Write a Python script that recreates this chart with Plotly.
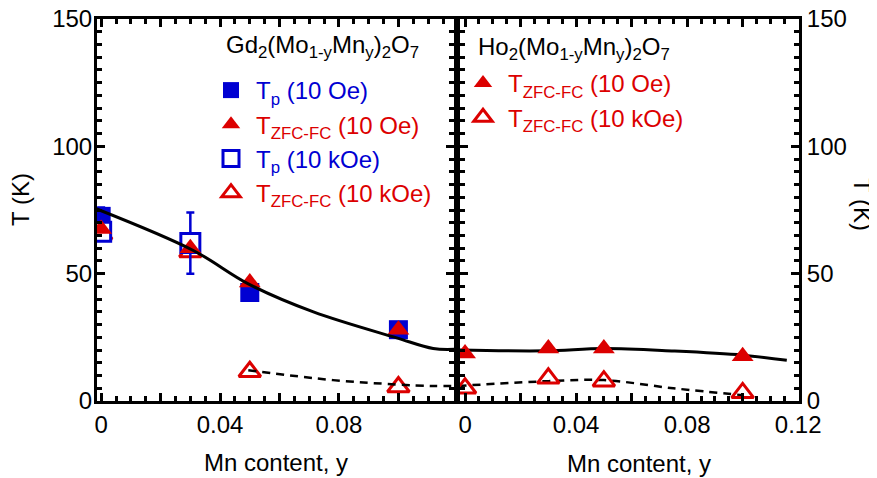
import plotly.graph_objects as go

# ---------------- data ----------------
# Left panel: Gd2(Mo1-yMny)2O7
gd_tp_lo_x = [0.0, 0.05, 0.10]
gd_tp_lo_y = [72.5, 42.6, 28.0]

gd_zfc_lo_x = [0.0, 0.03, 0.05, 0.10]
gd_zfc_lo_y = [67.5, 60.0, 46.5, 28.0]

gd_tp_hi_x = [0.0, 0.03]
gd_tp_hi_y = [66.5, 62.0]
gd_tp_hi_err_plus = [9.5, 12.0]
gd_tp_hi_err_minus = [0.0, 12.0]

gd_zfc_hi_x = [0.0, 0.03, 0.05, 0.10]
gd_zfc_hi_y = [65.5, 58.5, 11.5, 5.5]

gd_line_x = [-0.0015, 0.031, 0.0495, 0.0714, 0.0994, 0.1117, 0.119]
gd_line_y = [75.4, 59.1, 46.0, 35.0, 24.8, 20.6, 20.3]

gd_dash_x = [0.0495, 0.078, 0.0994, 0.1117, 0.119]
gd_dash_y = [12.1, 8.2, 6.5, 5.9, 5.9]

# Right panel: Ho2(Mo1-yMny)2O7
ho_zfc_lo_x = [0.0, 0.03, 0.05, 0.10]
ho_zfc_lo_y = [18.7, 20.6, 20.6, 17.6]

ho_zfc_hi_x = [0.0, 0.03, 0.05, 0.10]
ho_zfc_hi_y = [5.0, 8.9, 7.8, 3.2]

ho_line_x = [-0.0024, 0.029, 0.05, 0.0753, 0.10, 0.1159]
ho_line_y = [20.0, 19.7, 20.6, 19.6, 18.0, 16.0]

ho_dash_x = [-0.0024, 0.03, 0.05, 0.075, 0.10]
ho_dash_y = [5.9, 7.8, 8.2, 5.0, 2.3]

x_tickvals = [0, 0.02, 0.04, 0.06, 0.08, 0.10, 0.12]
x_ticktext = ["0", "", "0.04", "", "0.08", "", "0.12"]
y_tickvals = [0, 50, 100, 150]

# ---------------- style ----------------
BLUE = "#0000d2"
RED = "#dc0000"
FONT = "Liberation Sans"
FS = 24
MS_SQ = 19
MS_TR = 19

fig = go.Figure()

def red(t):
    return f"<span style='color:{RED}'>{t}</span>"

def blue(t):
    return f"<span style='color:{BLUE}'>{t}</span>"

# left panel traces (drawing order chosen to reproduce overlaps)
fig.add_trace(go.Scatter(x=gd_zfc_hi_x, y=gd_zfc_hi_y, mode="markers",
    marker=dict(symbol="triangle-up-open", size=MS_TR, color=RED, line=dict(width=3, color=RED)),
    name=red("T<sub>ZFC-FC</sub> (10 kOe)"), legend="legend", legendrank=4,
    xaxis="x", yaxis="y"))
fig.add_trace(go.Scatter(x=gd_tp_lo_x, y=gd_tp_lo_y, mode="markers",
    marker=dict(symbol="square", size=MS_SQ, color=BLUE, line=dict(width=0)),
    name=blue("T<sub>p</sub> (10 Oe)"), legend="legend", legendrank=1,
    xaxis="x", yaxis="y"))
fig.add_trace(go.Scatter(x=gd_tp_hi_x, y=gd_tp_hi_y, mode="markers",
    marker=dict(symbol="square", size=MS_SQ, color="white", line=dict(width=3, color=BLUE)),
    error_y=dict(type="data", symmetric=False, array=gd_tp_hi_err_plus,
                 arrayminus=gd_tp_hi_err_minus, color=BLUE, thickness=2.5, width=4),
    name=blue("T<sub>p</sub> (10 kOe)"), legend="legend", legendrank=3,
    xaxis="x", yaxis="y"))
fig.add_trace(go.Scatter(x=gd_zfc_lo_x, y=gd_zfc_lo_y, mode="markers",
    marker=dict(symbol="triangle-up", size=MS_TR, color=RED, line=dict(width=0)),
    name=red("T<sub>ZFC-FC</sub> (10 Oe)"), legend="legend", legendrank=2,
    xaxis="x", yaxis="y"))
fig.add_trace(go.Scatter(x=gd_line_x, y=gd_line_y, mode="lines", line=dict(color="black", width=3, shape="spline"),
    showlegend=False, xaxis="x", yaxis="y"))
fig.add_trace(go.Scatter(x=gd_dash_x, y=gd_dash_y, mode="lines",
    line=dict(color="black", width=2.5, dash="8px,6px", shape="spline"),
    showlegend=False, xaxis="x", yaxis="y"))

# right panel traces
fig.add_trace(go.Scatter(x=ho_line_x, y=ho_line_y, mode="lines", line=dict(color="black", width=3, shape="spline"),
    showlegend=False, xaxis="x2", yaxis="y2"))
fig.add_trace(go.Scatter(x=ho_dash_x, y=ho_dash_y, mode="lines",
    line=dict(color="black", width=2.5, dash="8px,6px", shape="spline"),
    showlegend=False, xaxis="x2", yaxis="y2"))
fig.add_trace(go.Scatter(x=ho_zfc_lo_x, y=ho_zfc_lo_y, mode="markers",
    marker=dict(symbol="triangle-up", size=MS_TR, color=RED, line=dict(width=0)),
    name=red("T<sub>ZFC-FC</sub> (10 Oe)"), legend="legend2", legendrank=1,
    xaxis="x2", yaxis="y2"))
fig.add_trace(go.Scatter(x=ho_zfc_hi_x, y=ho_zfc_hi_y, mode="markers",
    marker=dict(symbol="triangle-up-open", size=MS_TR, color=RED, line=dict(width=3, color=RED)),
    name=red("T<sub>ZFC-FC</sub> (10 kOe)"), legend="legend2", legendrank=2,
    xaxis="x2", yaxis="y2"))

# page body has an 8 px margin: the figure is offset by (8, 8) in the window
OFF = 8
W, H = 877 - OFF, 478 - OFF
def px(x):
    return (x - OFF) / W
def py(y):
    return 1 - (y - OFF) / H

ydom = [py(401), py(19)]

common_x = dict(showline=True, linecolor="black", linewidth=3, mirror="ticks",
                ticks="inside", ticklen=8, tickwidth=2.5, tickcolor="black",
                tickvals=x_tickvals, ticktext=x_ticktext, showgrid=False, zeroline=False,
                automargin=False, ticklabeloverflow="allow",
                tickfont=dict(family=FONT, size=FS, color="black"),
                minor=dict(dtick=0.005, tick0=0, ticks="inside", ticklen=5, tickwidth=2.5,
                           tickcolor="black", showgrid=False))
common_y = dict(showline=True, linecolor="black", linewidth=3, mirror="ticks",
                ticks="inside", ticklen=8, tickwidth=2.5, tickcolor="black",
                tickvals=y_tickvals, range=[0, 150], showgrid=False, zeroline=False,
                automargin=False, ticklabeloverflow="allow",
                tickfont=dict(family=FONT, size=FS, color="black"),
                minor=dict(dtick=5, tick0=0, ticks="inside", ticklen=5, tickwidth=2.5,
                           tickcolor="black", showgrid=False))

fig.update_layout(
    width=W, height=H,
    margin=dict(l=0, r=0, t=0, b=0, autoexpand=False),
    paper_bgcolor="white", plot_bgcolor="white",
    font=dict(family=FONT, size=FS, color="black"),
    xaxis=dict(domain=[px(97), px(454)], range=[-0.0014, 0.1187], anchor="y", **common_x),
    yaxis=dict(domain=ydom, anchor="x", side="left", ticklabelstandoff=-3, **common_y),
    xaxis2=dict(domain=[px(459.5), px(799)], range=[-0.002, 0.1203], anchor="y2", **common_x),
    yaxis2=dict(domain=ydom, anchor="x2", side="right", **common_y),
    legend=dict(x=px(206), y=py(68), xanchor="left", yanchor="top", bgcolor="rgba(0,0,0,0)",
                font=dict(family=FONT, size=FS), itemsizing="trace", itemwidth=40,
                traceorder="normal"),
    legend2=dict(x=px(458), y=py(61), xanchor="left", yanchor="top", bgcolor="rgba(0,0,0,0)",
                 font=dict(family=FONT, size=FS), itemsizing="trace", itemwidth=40,
                 traceorder="normal"),
    annotations=[
        dict(text="Gd<sub>2</sub>(Mo<sub>1-y</sub>Mn<sub>y</sub>)<sub>2</sub>O<sub>7</sub>",
             xref="paper", yref="paper", x=px(224), y=py(47), xanchor="left", yanchor="middle",
             showarrow=False, font=dict(family=FONT, size=FS, color="black")),
        dict(text="Ho<sub>2</sub>(Mo<sub>1-y</sub>Mn<sub>y</sub>)<sub>2</sub>O<sub>7</sub>",
             xref="paper", yref="paper", x=px(476), y=py(48), xanchor="left", yanchor="middle",
             showarrow=False, font=dict(family=FONT, size=FS, color="black")),
        dict(text="T (K)", xref="paper", yref="paper", x=px(21), y=py(200), textangle=-90,
             xanchor="center", yanchor="middle", showarrow=False,
             font=dict(family=FONT, size=FS, color="black")),
        dict(text="T (K)", xref="paper", yref="paper", x=px(862), y=py(204), textangle=90,
             xanchor="center", yanchor="middle", showarrow=False,
             font=dict(family=FONT, size=FS, color="black")),
        dict(text="Mn content, y", xref="paper", yref="paper", x=px(276), y=py(462),
             xanchor="center", yanchor="middle", showarrow=False,
             font=dict(family=FONT, size=FS, color="black")),
        dict(text="Mn content, y", xref="paper", yref="paper", x=px(639), y=py(463),
             xanchor="center", yanchor="middle", showarrow=False,
             font=dict(family=FONT, size=FS, color="black")),
    ],
)

fig.write_html("out.html")
